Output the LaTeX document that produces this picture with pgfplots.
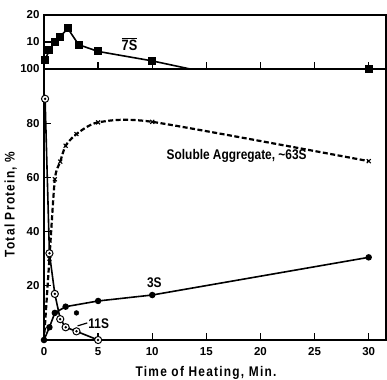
\documentclass[border=0pt]{standalone}
\usepackage{fontspec}
\setmainfont{Liberation Sans}
\newfontfamily\condfont{Liberation Sans}[FakeStretch=0.85]
\usepackage{pgfplots}
\pgfplotsset{compat=1.18}

\pgfdeclareplotmark{circdot}{%
  \pgfpathcircle{\pgfpointorigin}{\pgfplotmarksize}%
  \pgfusepathqfillstroke
  \begin{pgfscope}%
  \pgfsetfillcolor{black}%
  \pgfpathcircle{\pgfpointorigin}{0.38\pgfplotmarksize}%
  \pgfusepathqfill
  \end{pgfscope}%
}

\pgfplotsset{
  myaxis/.style={
    scale only axis, width=342pt,
    xmin=0, xmax=31.6,
    clip=false,
    tick align=inside,
    major tick length=7pt,
    axis line style={line width=1.4pt},
    every tick/.style={black, line width=1.3pt},
    /pgf/number format/assume math mode=true,
    tick label style={font=\bfseries\fontsize{11.5}{13}\selectfont},
    label style={font=\condfont\bfseries\fontsize{14}{16}\selectfont},
    xtick pos=bottom, ytick pos=left,
  }
}

\begin{document}
\begin{tikzpicture}
% main axis
\begin{axis}[myaxis,
  at={(0pt,0pt)}, anchor=south west,
  height=271pt,
  ymin=0, ymax=100,
  xtick={0,5,10,15,20,25,30},
  ytick={20,40,60,80},
  xticklabel style={yshift=-4pt},
  yticklabel style={xshift=-1pt},
  xlabel={\addfontfeatures{LetterSpace=9}Time of Heating, Min.},
  ylabel={\addfontfeatures{LetterSpace=9}Total Protein, \%},
  xlabel style={xshift=-9pt, yshift=-4pt},
  ylabel style={yshift=3pt},
]
% Soluble aggregate
\addplot[black, line width=2.2pt, dash pattern=on 5pt off 2.5pt, smooth, tension=0.4,
  mark=x, mark size=2.8pt, mark options={solid, line width=1.1pt}]
  coordinates {(0,0) (0.5,30) (1,59.3) (1.5,65.8) (2,71.7) (3,76) (5,80.3) (10,80.5) (30,66)};
% 3S
\addplot[black, line width=1.6pt, mark=*, mark size=2.4pt]
  coordinates {(0,0) (0.5,4.7) (1,10) (2,12.3) (5,14.4) (10,16.6) (30,30.5)};
\addplot[only marks, black, mark=*, mark size=2.4pt]
  coordinates {(3,10)};
% 11S
\addplot[black, line width=1.6pt, mark=circdot, mark size=3.6pt,
  mark options={fill=white, line width=1pt}]
  coordinates {(0.1,89) (0.5,32) (1,17) (1.5,7.7) (2,4.7) (3,3.2) (5,0)};
% labels
\node[font=\condfont\bfseries\fontsize{14}{16}\selectfont] at (axis cs:17.8,67.9) {Soluble Aggregate, \textasciitilde63S};
\node[font=\condfont\bfseries\fontsize{14}{16}\selectfont] at (axis cs:10.2,21) {3S};
\draw[black, line width=1.2pt] (axis cs:3.1,5.2) -- (axis cs:4.0,6.3);
\node[font=\condfont\bfseries\fontsize{14}{16}\selectfont, anchor=west, inner sep=1pt] at (axis cs:4.0,6.0) {11S};
\end{axis}
% top axis
\begin{axis}[myaxis,
  at={(0pt,271pt)}, anchor=south west,
  height=54pt,
  ymin=0, ymax=20,
  xtick={5,10,15,20,25,30}, xticklabels={},
  ytick={0,10,20}, yticklabels={100,10,20},
  yticklabel style={xshift=-1pt},
]
\addplot[black, line width=1.6pt, mark=square*, mark size=3.2pt, mark indices={1,2,3,4,5,6,7,8,10}]
  coordinates {(0.1,3.5) (0.5,7) (1,10) (1.5,12) (2.2,15) (3.2,9) (5,6.5) (10,3) (13.5,0) (30,0)};
\node[font=\condfont\bfseries\fontsize{15}{17}\selectfont] at (axis cs:7.9,9.3) {$\overline{\hbox{\condfont\bfseries 7S}}$};
\end{axis}
\pgfresetboundingbox
\path[use as bounding box] (-44pt,-39pt) rectangle (343pt,340pt);
\end{tikzpicture}
\end{document}
